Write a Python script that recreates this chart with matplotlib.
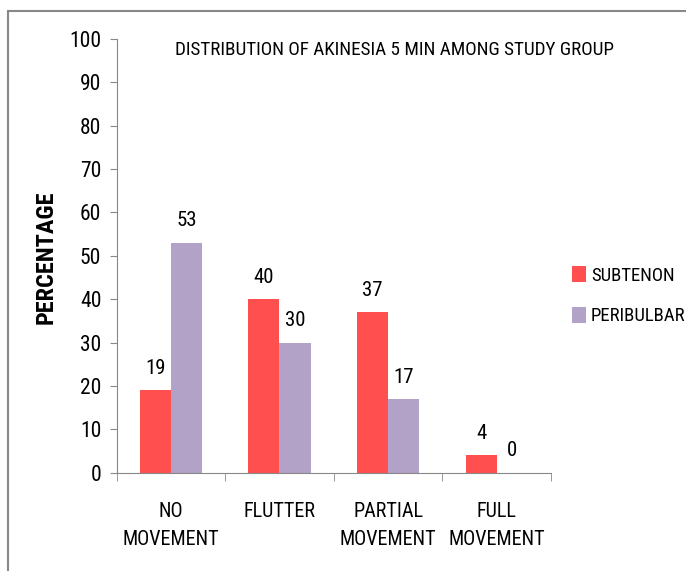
import matplotlib
matplotlib.use("Agg")
import matplotlib.pyplot as plt
import matplotlib.patches as mpatches
import numpy as np

categories = ["NO\nMOVEMENT", "FLUTTER", "PARTIAL\nMOVEMENT", "FULL\nMOVEMENT"]
subtenon = [19, 40, 37, 4]
peribulbar = [53, 30, 17, 0]
series_names = ["SUBTENON", "PERIBULBAR"]
colors = ["#FF4F4F", "#B2A2C7"]

plt.rcParams['font.family'] = ['Roboto Condensed', 'DejaVu Sans']

fig = plt.figure(figsize=(6.86, 5.71), dpi=100)
ax = fig.add_axes([0.170, 0.172, 0.633, 0.760])

x = np.arange(len(categories))
w = 0.286
b1 = ax.bar(x - w/2, subtenon, w, color=colors[0], label=series_names[0])
b2 = ax.bar(x + w/2, peribulbar, w, color=colors[1], label=series_names[1])

for bars, vals in [(b1, subtenon), (b2, peribulbar)]:
    for r, v in zip(bars, vals):
        ax.annotate(str(v), (r.get_x() + r.get_width()/2, v), xytext=(0, 9),
                    textcoords="offset points", ha="center", va="bottom", fontsize=15)

ax.set_xlim(-0.5, len(categories) - 0.5)
ax.set_ylim(0, 100)
ax.set_yticks(range(0, 101, 10))
ax.set_xticks(x)
ax.set_xticklabels(categories, fontsize=14.5, linespacing=1.6)
ax.set_xticks(np.arange(-0.5, len(categories)), minor=True)
ax.tick_params(axis="x", which="major", length=0, pad=21)
ax.tick_params(axis="x", which="minor", length=6, color="#888888")
ax.tick_params(axis="y", length=5, color="#888888", labelsize=15.5, pad=6)
for s in ["top", "right"]:
    ax.spines[s].set_visible(False)
for s in ["left", "bottom"]:
    ax.spines[s].set_color("#888888")

fig.text(0.067, 0.549, "PERCENTAGE", rotation=90, ha="center", va="center",
         fontsize=17.5, fontweight="bold")

fig.text(0.575, 0.912, "DISTRIBUTION OF AKINESIA 5 MIN AMONG STUDY GROUP",
         ha="center", va="center", fontsize=13.8)

fig.legend(handles=[b1, b2], labels=series_names, loc="center left",
           bbox_to_anchor=(0.834, 0.482), frameon=False, fontsize=13.5,
           handlelength=0.75, handleheight=0.9, labelspacing=1.2,
           handletextpad=0.25, borderpad=0, borderaxespad=0)

fig.patches.append(mpatches.Rectangle((0.012, -0.05), 1.2, 1.03, transform=fig.transFigure,
                                      fill=False, edgecolor="#888888", linewidth=1.5))

fig.savefig("out.png", dpi=100)
